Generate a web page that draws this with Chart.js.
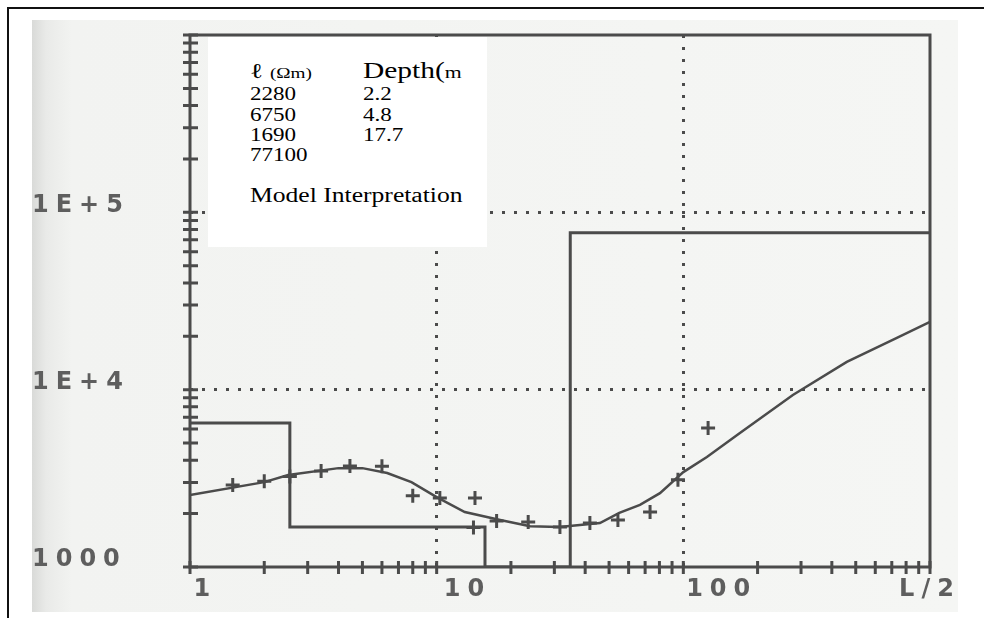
<!DOCTYPE html>
<html>
<head>
<meta charset="utf-8">
<script src="https://cdn.jsdelivr.net/npm/chart.js@4.4.1/dist/chart.umd.min.js"></script>
<style>
  html, body { margin: 0; padding: 0; background: #fff; width: 984px; height: 618px; overflow: hidden; }
  #frame { position: absolute; left: 7px; top: 7px; width: 1100px; height: 700px; border-left: 2px solid #111; border-top: 2px solid #111; }
  #scan { position: absolute; left: 32px; top: 20px; width: 926px; height: 592px;
          background: linear-gradient(to right, #d9dad8 0px, #e9eae8 14px, #f2f3f1 40px, #f5f6f4 100%); }
  #wrap { position: absolute; left: 0; top: 0; width: 984px; height: 618px; }
  #key { position: absolute; left: 208px; top: 37px; width: 279px; height: 210px; background: #fff;
         font-family: "Liberation Serif", "Times New Roman", serif; color: #000; }
  #key div { position: absolute; white-space: nowrap; line-height: 1; transform: scaleX(1.28); transform-origin: 0 0; }
</style>
</head>
<body>
<div id="frame"></div>
<div id="scan"></div>
<div id="wrap"><canvas id="ves" width="984" height="618"></canvas></div>
<div id="key"></div>
<script>
// model layers: start of each layer (AB/2) and its resistivity
const modelStart = [1, 2.54, 15.7, 34.8, 1000];
const modelRho = [6490, 1680, 1000, 76600, 76600];

// calculated apparent resistivity curve
const curveX = [1, 2, 2.5, 4, 5, 6.3, 7.9, 10, 13, 18.1, 23.9, 31.5, 45.9, 55, 66.7, 80.4, 100, 124.6, 169.6, 278, 460, 734, 1000];
const curveY = [2550, 3010, 3300, 3610, 3610, 3390, 3010, 2480, 2040, 1840, 1700, 1680, 1770, 2020, 2240, 2610, 3430, 4170, 5700, 9340, 14330, 19560, 24090];

// field readings (+)
const fieldX = [1.49, 2.0, 2.54, 3.4, 4.45, 6.0, 8.0, 10.3, 14.3, 14.1, 17.5, 23.5, 31.6, 41.8, 54.3, 73.3, 95.1, 126];
const fieldY = [2900, 3040, 3240, 3475, 3710, 3700, 2520, 2450, 2450, 1670, 1815, 1795, 1680, 1770, 1840, 2040, 3100, 6080];

// axis ticks and labels
const xTickValues = [1, 2, 3, 4, 5, 6, 7, 8, 9, 10, 20, 30, 40, 50, 60, 70, 80, 90, 100, 200, 300, 400, 500, 600, 700, 800, 900, 1000];
const xTickLabels = { 1: '  1', 10: '    10', 100: '     100', 1000: 'L/2' };
const xGridValues = [10, 100];
const yTickValues = [1000, 2000, 3000, 4000, 5000, 6000, 7000, 8000, 9000, 10000, 20000, 30000, 40000, 50000, 60000, 70000, 80000, 90000, 100000, 200000, 300000, 400000, 500000, 600000, 700000, 800000, 900000, 1000000];
const yTickLabels = { 1000: '1000', 10000: '1E+4', 100000: '1E+5' };
const yGridValues = [10000, 100000];

// text box
const keyRho = ['2280', '6750', '1690', '77100'];
const keyDepth = ['2.2', '4.8', '17.7'];

const ink = '#4b4b4b';
const labelInk = '#5e5e5e';

function buildKey() {
    const key = document.getElementById('key');
    let html = '<div style="left:42px;top:23px;font-size:22px"><span style="font-size:21px">&#8467;</span> <span style="font-size:15px">(&Omega;m)</span></div>';
    html += '<div style="left:155px;top:22px;font-size:23px">Depth(<span style="font-size:17px">m</span></div>';
    const rowBase = [63, 84, 104, 124];
    keyRho.forEach((v, i) => {
        html += `<div style="left:42px;top:${rowBase[i] - 15}px;font-size:18px">${v}</div>`;
    });
    keyDepth.forEach((v, i) => {
        html += `<div style="left:155px;top:${rowBase[i] - 15}px;font-size:18px">${v}</div>`;
    });
    html += '<div style="left:42px;top:148px;font-size:20px">Model Interpretation</div>';
    key.innerHTML = html;
}
buildKey();

// wide bitmap-looking tick font
const pixelFont = {
    id: 'pixelFont',
    beforeDraw(chart) { chart.ctx.letterSpacing = '7px'; },
    afterDraw(chart) { chart.ctx.letterSpacing = '0px'; }
};

// frame + tick marks crossing the axes
const plotFrame = {
    id: 'plotFrame',
    afterDraw(chart) {
        const { ctx, chartArea: a, scales: { x, y } } = chart;
        ctx.save();
        ctx.strokeStyle = ink;
        ctx.lineWidth = 3;
        ctx.beginPath();
        x.ticks.forEach(t => {
            const px = x.getPixelForValue(t.value);
            ctx.moveTo(px, a.bottom - 6);
            ctx.lineTo(px, a.bottom + 7);
        });
        y.ticks.forEach(t => {
            const py = y.getPixelForValue(t.value);
            ctx.moveTo(a.left - 7, py);
            ctx.lineTo(a.left + 8, py);
        });
        ctx.stroke();
        ctx.strokeRect(a.left, a.top, a.right - a.left, a.bottom - a.top);
        ctx.restore();
    }
};

const tickFont = { family: 'DejaVu Sans', size: 24, weight: 'bold' };

new Chart(document.getElementById('ves'), {
    type: 'line',
    data: {
        datasets: [
            {
                label: 'Model',
                data: modelStart.map((x, i) => ({ x: x, y: modelRho[i] })),
                stepped: 'before',
                borderColor: ink,
                borderWidth: 3,
                pointRadius: 0
            },
            {
                label: 'Calculated',
                data: curveX.map((x, i) => ({ x: x, y: curveY[i] })),
                borderColor: ink,
                borderWidth: 2.5,
                pointRadius: 0
            },
            {
                label: 'Field',
                data: fieldX.map((x, i) => ({ x: x, y: fieldY[i] })),
                showLine: false,
                pointStyle: 'cross',
                pointRadius: 7,
                pointBorderWidth: 3,
                borderColor: ink
            }
        ]
    },
    options: {
        responsive: false,
        animation: false,
        layout: { padding: { top: 35, right: 54, left: 32, bottom: 0 } },
        plugins: { legend: { display: false }, tooltip: { enabled: false } },
        scales: {
            x: {
                type: 'logarithmic',
                min: 1,
                max: 1000,
                afterBuildTicks: scale => { scale.ticks = xTickValues.map(v => ({ value: v })); },
                afterFit: scale => { scale.height = 51; },
                ticks: {
                    autoSkip: false,
                    maxRotation: 0,
                    padding: 8,
                    font: tickFont,
                    color: labelInk,
                    callback: v => xTickLabels[v] || ''
                },
                grid: {
                    drawTicks: false,
                    lineWidth: 3,
                    color: c => (c.tick && xGridValues.includes(c.tick.value)) ? ink : 'rgba(0,0,0,0)'
                },
                border: { display: false, dash: [3, 9] }
            },
            y: {
                type: 'logarithmic',
                min: 1000,
                max: 1000000,
                afterBuildTicks: scale => { scale.ticks = yTickValues.map(v => ({ value: v })); },
                afterFit: scale => { scale.width = 158; },
                ticks: {
                    autoSkip: false,
                    crossAlign: 'far',
                    padding: 0,
                    labelOffset: -7,
                    font: tickFont,
                    color: labelInk,
                    callback: v => yTickLabels[v] || ''
                },
                grid: {
                    drawTicks: false,
                    lineWidth: 3,
                    color: c => (c.tick && yGridValues.includes(c.tick.value)) ? ink : 'rgba(0,0,0,0)'
                },
                border: { display: false, dash: [3, 9] }
            }
        }
    },
    plugins: [pixelFont, plotFrame]
});
</script>
</body>
</html>
